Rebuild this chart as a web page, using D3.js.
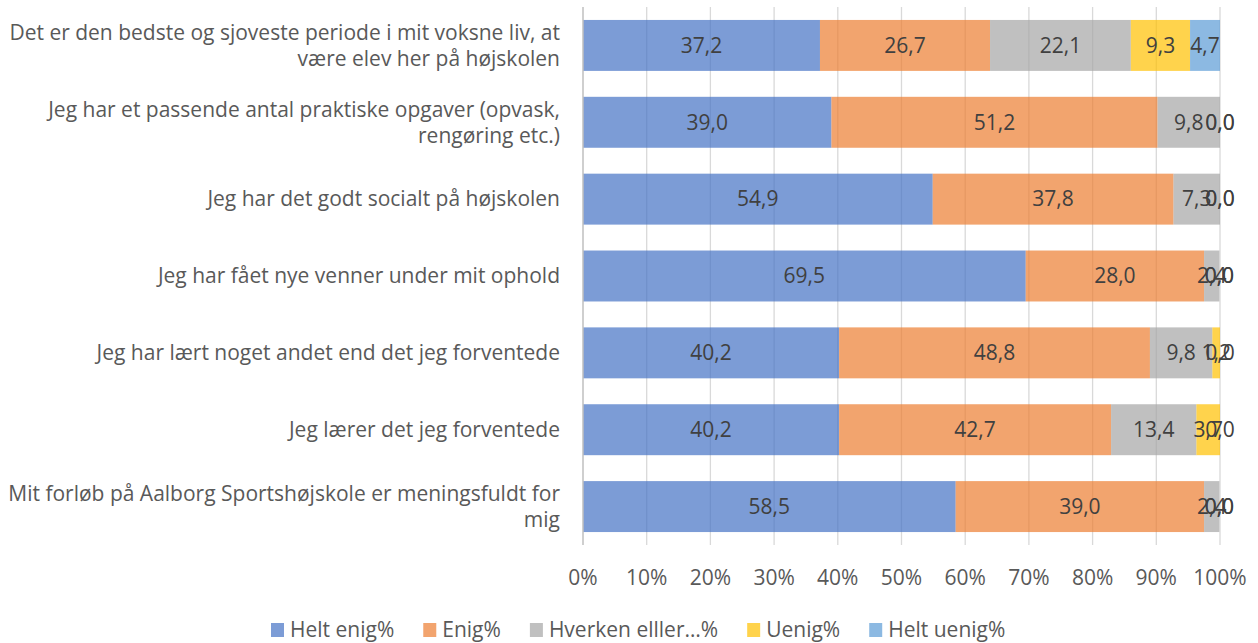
<!DOCTYPE html>
<html>
<head>
<meta charset="utf-8">
<script src="https://cdn.jsdelivr.net/npm/d3@7"></script>
<style>
  body { margin: 0; background: #fff; }
  text { font-family: "Open Sans", sans-serif; }
</style>
</head>
<body>
<svg id="chart"></svg>
<script>
// categories, top to bottom, each as its wrapped lines
const categories = [
  ['Det er den bedste og sjoveste periode i mit voksne liv, at', 'være elev her på højskolen'],
  ['Jeg har et passende antal praktiske opgaver (opvask,', 'rengøring etc.)'],
  ['Jeg har det godt socialt på højskolen'],
  ['Jeg har fået nye venner under mit ophold'],
  ['Jeg har lært noget andet end det jeg forventede'],
  ['Jeg lærer det jeg forventede'],
  ['Mit forløb på Aalborg Sportshøjskole er meningsfuldt for', 'mig']
];
const seriesNames = ['Helt enig%', 'Enig%', 'Hverken elller…%', 'Uenig%', 'Helt uenig%'];
const heltEnig  = [37.2, 39.0, 54.9, 69.5, 40.2, 40.2, 58.5];
const enig      = [26.7, 51.2, 37.8, 28.0, 48.8, 42.7, 39.0];
const hverken   = [22.1, 9.8, 7.3, 2.4, 9.8, 13.4, 2.4];
const uenig     = [9.3, 0.0, 0.0, 0.0, 1.2, 3.7, 0.0];
const heltUenig = [4.7, 0.0, 0.0, 0.0, 0.0, 0.0, 0.0];
const tickValues = [0, 10, 20, 30, 40, 50, 60, 70, 80, 90, 100];
const colors = ['#4472C4', '#ED7D31', '#A5A5A5', '#FFC000', '#5B9BD5'];

const width = 1258, height = 643;
const margin = {top: 7, right: 38, bottom: 98, left: 583};
const fontSize = 21;

const svg = d3.select('#chart')
  .attr('width', width)
  .attr('height', height);

const rows = categories.map((c, i) => ({
  key: i,
  values: [heltEnig[i], enig[i], hverken[i], uenig[i], heltUenig[i]]
}));

const x = d3.scaleLinear()
  .domain([0, 100])
  .range([margin.left, width - margin.right]);

const y = d3.scaleBand()
  .domain(rows.map(d => d.key))
  .range([margin.top, height - margin.bottom])
  .paddingInner(0.337)
  .paddingOuter(0.337 / 2);

// gridlines
svg.append('g')
  .selectAll('line')
  .data(tickValues.slice(1))
  .join('line')
    .attr('x1', d => x(d)).attr('x2', d => x(d))
    .attr('y1', margin.top).attr('y2', height - margin.bottom)
    .attr('stroke', '#d9d9d9')
    .attr('stroke-width', 1.3);

// stacked segments
rows.forEach(row => {
  let acc = 0;
  const segs = row.values.map((v, j) => {
    const s = {x0: acc, x1: acc + v, v: v, j: j};
    acc += v;
    return s;
  });
  const g = svg.append('g');
  g.selectAll('rect')
    .data(segs)
    .join('rect')
      .attr('x', d => x(d.x0))
      .attr('y', y(row.key))
      .attr('width', d => x(d.x1) - x(d.x0))
      .attr('height', y.bandwidth())
      .attr('fill', d => colors[d.j])
      .attr('fill-opacity', 0.7);
  g.selectAll('text')
    .data(segs)
    .join('text')
      .attr('x', d => (x(d.x0) + x(d.x1)) / 2)
      .attr('y', y(row.key) + y.bandwidth() / 2)
      .attr('dy', '0.35em')
      .attr('text-anchor', 'middle')
      .attr('font-size', fontSize)
      .attr('fill', '#404040')
      .text(d => d.v.toFixed(1).replace('.', ','));
});

// left axis line
svg.append('line')
  .attr('x1', margin.left).attr('x2', margin.left)
  .attr('y1', margin.top).attr('y2', height - margin.bottom)
  .attr('stroke', '#bfbfbf')
  .attr('stroke-width', 1.5);

// x tick labels
svg.append('g')
  .selectAll('text')
  .data(tickValues)
  .join('text')
    .attr('x', d => x(d))
    .attr('y', 578)
    .attr('dy', '0.35em')
    .attr('text-anchor', 'middle')
    .attr('font-size', fontSize)
    .attr('fill', '#595959')
    .text(d => d + '%');

// category labels
const lineH = 26;
svg.append('g')
  .selectAll('text')
  .data(categories)
  .join('text')
    .attr('text-anchor', 'end')
    .attr('font-size', fontSize)
    .attr('fill', '#595959')
    .each(function(lines, i) {
      const cy = y(i) + y.bandwidth() / 2 - (lines.length - 1) * lineH / 2;
      d3.select(this).selectAll('tspan')
        .data(lines)
        .join('tspan')
          .attr('x', 560)
          .attr('y', (d, k) => cy + k * lineH)
          .attr('dy', '0.35em')
          .text(d => d);
    });

// legend, laid out left to right
const legend = svg.append('g').attr('transform', 'translate(0,630)');
let lx = 271;
seriesNames.forEach((name, i) => {
  legend.append('rect')
    .attr('x', lx).attr('y', -7)
    .attr('width', 13).attr('height', 14)
    .attr('fill', colors[i])
    .attr('fill-opacity', 0.7);
  const t = legend.append('text')
    .attr('x', lx + 19)
    .attr('dy', '0.35em')
    .attr('font-size', fontSize)
    .attr('fill', '#595959')
    .text(name);
  lx += 19 + t.node().getComputedTextLength() + 29;
});
</script>
</body>
</html>
